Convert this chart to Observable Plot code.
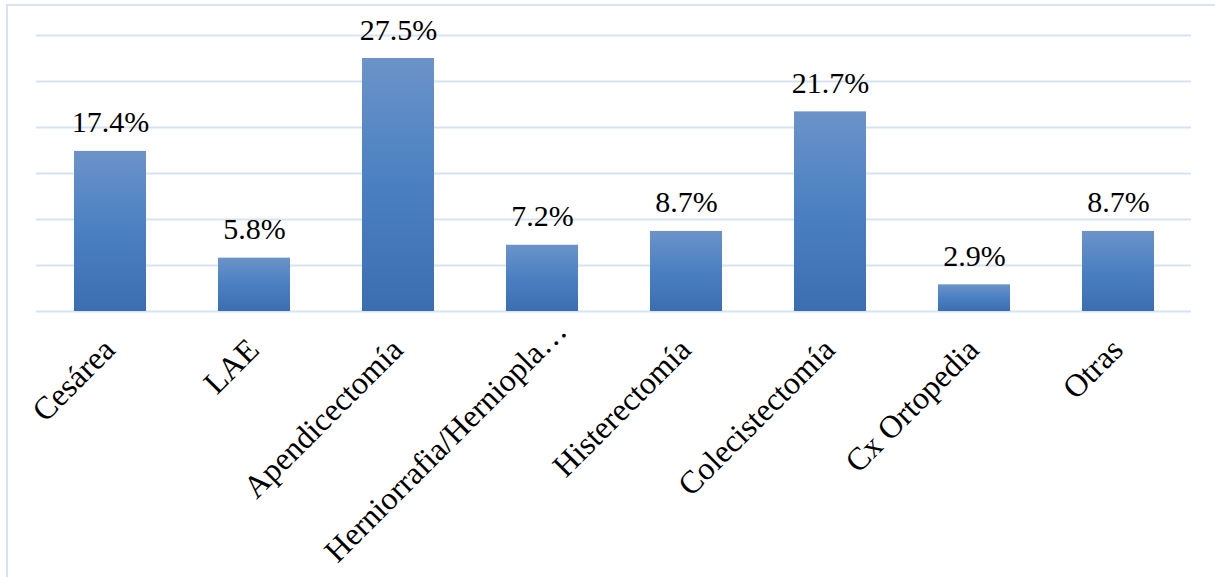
<!DOCTYPE html>
<html>
<head>
<meta charset="utf-8">
<script src="https://cdn.jsdelivr.net/npm/d3@7"></script>
<script src="https://cdn.jsdelivr.net/npm/@observablehq/plot@0.6"></script>
<style>
  html, body { margin: 0; padding: 0; background: #fff; overflow: hidden; }
  #wrap { position: relative; width: 1215px; height: 577px; }
  #frame { position: absolute; left: 6px; top: 4px; width: 1300px; height: 700px;
           border: 2px solid #d5e3f4; box-sizing: border-box; pointer-events: none; }
  #chart { position: absolute; left: 0; top: 0; }
  #chart svg, #chart svg text { font-family: "Liberation Serif", "Times New Roman", serif !important; }
</style>
</head>
<body>
<div id="wrap"><div id="frame"></div><div id="chart"></div></div>
<script>
const categories = ["Cesárea", "LAE", "Apendicectomía", "Herniorrafia/Hernioplastía", "Histerectomía", "Colecistectomía", "Cx Ortopedia", "Otras"];
const shortLabels = ["Cesárea", "LAE", "Apendicectomía", "Herniorrafia/Hernioplа…", "Histerectomía", "Colecistectomía", "Cx Ortopedia", "Otras"];
const values = [17.4, 5.8, 27.5, 7.2, 8.7, 21.7, 2.9, 8.7];
const gridTicks = [0, 5, 10, 15, 20, 25, 30];

const data = categories.map((c, i) => ({cat: c, label: shortLabels[i], value: values[i]}));
const truncated = data.filter(d => d.label.endsWith("…"));
const normal = data.filter(d => !d.label.endsWith("…"));

const font = "Liberation Serif";

const chart = Plot.plot({
  width: 1215,
  height: 577,
  marginTop: 35,
  marginBottom: 266,
  marginLeft: 36,
  marginRight: 24,
  style: {fontSize: "29px", color: "#000", background: "transparent"},
  x: {domain: categories, paddingInner: 0.5, paddingOuter: 0.25, axis: null},
  y: {domain: [0, 30], axis: null},
  marks: [
    Plot.gridY(gridTicks, {stroke: "#d5e3f4", strokeOpacity: 1, strokeWidth: 2}),
    Plot.barY(data, {x: "cat", y: "value", fill: "url(#barGrad)"}),
    Plot.text(data, {x: "cat", y: "value", text: d => d.value.toFixed(1) + "%",
      lineAnchor: "bottom", dy: -19, fontSize: 30, fontFamily: font, fill: "#000"}),
    Plot.text(normal, {x: "cat", text: "label", frameAnchor: "bottom", rotate: -45,
      textAnchor: "end", lineAnchor: "middle", dy: 33, dx: -1, fontSize: 32, fontFamily: font, fill: "#000"}),
    Plot.text(truncated, {x: "cat", text: "label", frameAnchor: "bottom", rotate: -45,
      textAnchor: "end", lineAnchor: "middle", dy: 14, dx: 19, fontSize: 32, fontFamily: font, fill: "#000"})
  ]
});

const svg = d3.select(chart);
const defs = svg.insert("defs", ":first-child");
const g = defs.append("linearGradient").attr("id", "barGrad")
  .attr("x1", 0).attr("y1", 0).attr("x2", 0).attr("y2", 1);
g.append("stop").attr("offset", "0%").attr("stop-color", "#6b93c9");
g.append("stop").attr("offset", "50%").attr("stop-color", "#4a80c2");
g.append("stop").attr("offset", "100%").attr("stop-color", "#3b6eb0");

document.getElementById("chart").appendChild(chart);
</script>
</body>
</html>
